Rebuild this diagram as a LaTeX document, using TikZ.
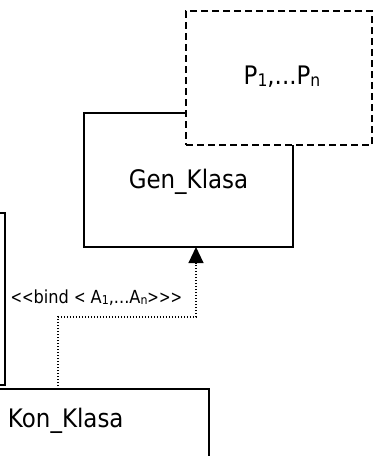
\documentclass[tikz,border=0pt]{standalone}
\usepackage{fontspec}
\setmainfont{DejaVu Sans}[FakeStretch=0.9]
\usepackage{graphicx}
\usetikzlibrary{arrows.meta}
\newcommand\lsub[1]{\raisebox{-0.15ex}{\scalebox{0.68}{#1}}}
\newcommand\nlt{\scalebox{0.85}[1]{<}}
\newcommand\ngt{\scalebox{0.85}[1]{>}}
\begin{document}
\begin{tikzpicture}[x=1pt,y=-1pt,
  umlbox/.style={draw,line width=1.8pt,inner sep=0pt,outer sep=0pt,fill=white},
  parambox/.style={umlbox,dash pattern=on 7pt off 4pt},
  bigtext/.style={inner sep=0pt,outer sep=0pt,font=\fontsize{25.5}{30}\selectfont},
  smalltext/.style={inner sep=0pt,outer sep=0pt,font=\fontsize{18}{21}\selectfont},
  bindline/.style={line width=1.1pt,dash pattern=on 1.1pt off 1.9pt,-{Triangle[width=15pt,length=16pt]}}]
\useasboundingbox (0,0) rectangle (373,456);
\clip (0,0) rectangle (373,456);
% boxes
\node[umlbox,minimum width=65pt,minimum height=172pt] (left) at (-27.5,299) {};
\node[umlbox,minimum width=269pt,minimum height=131pt] (kon) at (74.5,454.5) {};
\node[umlbox,minimum width=209pt,minimum height=134pt] (gen) at (188.5,180) {};
\node[parambox,minimum width=186pt,minimum height=134pt] (par) at (279,78) {};
% texts
\node[bigtext,anchor=base] (gent) at (188.5,188) {Gen\_Klasa};
\node[bigtext,anchor=base] (part) at (282,84) {P\lsub{1},...P\lsub{n}};
\node[bigtext,anchor=base west] (kont) at (8,427) {Kon\_Klasa};
\node[smalltext,anchor=base west] (lbl) at (10.5,303) {\nlt\nlt bind \nlt{} A\lsub{1},...A\lsub{n}\ngt\ngt\ngt};
% connector
\coordinate (srcx) at (58,0);
\coordinate (dstx) at (196,0);
\coordinate (midy) at (0,317);
\draw[bindline] (kon.north -| srcx) |- (midy -| dstx) -- (gen.south -| dstx);
\end{tikzpicture}
\end{document}
